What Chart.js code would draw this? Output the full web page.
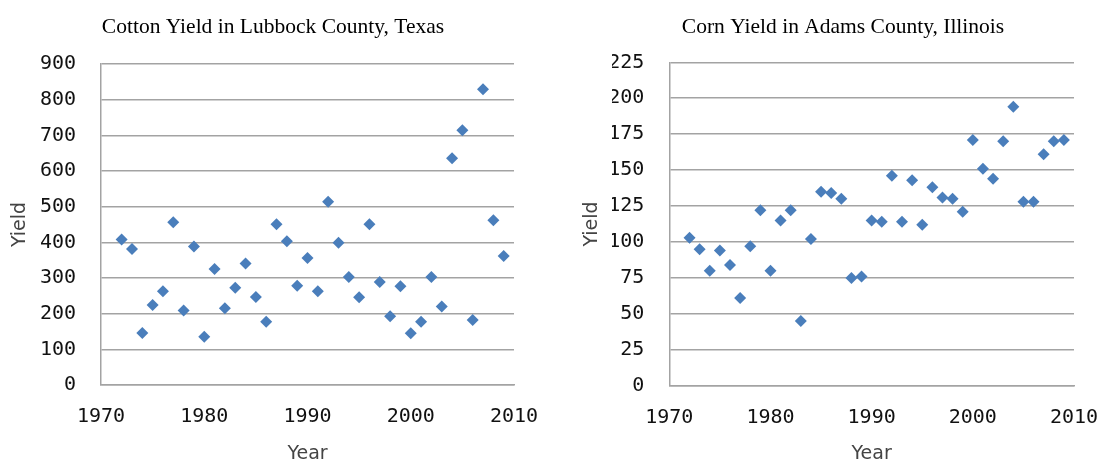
<!DOCTYPE html>
<html>
<head>
<meta charset="utf-8" />
<title>Yield scatter</title>
<script src="https://cdn.jsdelivr.net/npm/chart.js@4/dist/chart.umd.min.js"></script>
<style>
  html, body { margin: 0; padding: 0; background: #fff; }
  body { width: 1099px; height: 462px; position: relative; overflow: hidden; }
  .box { position: absolute; top: 0; }
</style>
</head>
<body>
<div class="box" style="left:0px"><canvas id="cotton" width="546" height="462"></canvas></div>
<div class="box" style="left:570px"><canvas id="corn" width="529" height="462"></canvas></div>
<script>
// data
const years = [1972, 1973, 1974, 1975, 1976, 1977, 1978, 1979, 1980, 1981,
               1982, 1983, 1984, 1985, 1986, 1987, 1988, 1989, 1990, 1991,
               1992, 1993, 1994, 1995, 1996, 1997, 1998, 1999, 2000, 2001,
               2002, 2003, 2004, 2005, 2006, 2007, 2008, 2009];
const cottonYield = [408, 381, 146, 224, 263, 456, 209, 388, 135, 325,
                     215, 273, 341, 247, 177, 451, 403, 278, 356, 263,
                     514, 399, 303, 246, 451, 289, 193, 277, 145, 177,
                     303, 220, 636, 714, 182, 829, 462, 362];
const cornYield = [103, 95, 80, 94, 84, 61, 97, 122, 80, 115,
                   122, 45, 102, 135, 134, 130, 75, 76, 115, 114,
                   146, 114, 143, 112, 138, 131, 130, 121, 171, 151,
                   144, 170, 194, 128, 128, 161, 170, 171];
const yearTicks = [1970, 1980, 1990, 2000, 2010];
const cottonTicks = [0, 100, 200, 300, 400, 500, 600, 700, 800, 900];
const cornTicks = [0, 25, 50, 75, 100, 125, 150, 175, 200, 225];

const gridGray = '#a3a3a3';
const tickFont = { family: 'DejaVu Sans Mono', size: 20 };
const axisTitleFont = { family: 'DejaVu Sans', size: 19 };

function makeChart(id, title, values, yTicks, s) {
  const pts = years.map((yr, i) => ({ x: yr, y: values[i] }));
  return new Chart(document.getElementById(id), {
    type: 'scatter',
    data: {
      datasets: [{
        data: pts,
        pointStyle: 'rectRot',
        pointRadius: 6,
        pointHoverRadius: 6,
        backgroundColor: '#4a7ebb',
        borderColor: '#4a7ebb',
        borderWidth: 0
      }]
    },
    options: {
      responsive: false,
      animation: false,
      devicePixelRatio: 1,
      layout: { padding: { left: s.padLeft, right: s.padRight, top: 0, bottom: 0 } },
      plugins: {
        legend: { display: false },
        tooltip: { enabled: false },
        title: {
          display: true,
          text: title,
          color: '#000',
          font: { family: 'Liberation Serif', size: 21.5, weight: 'normal' },
          padding: { top: 14, bottom: s.titleBottom }
        }
      },
      scales: {
        x: {
          type: 'linear',
          min: yearTicks[0],
          max: yearTicks[yearTicks.length - 1],
          afterBuildTicks: (sc) => { sc.ticks = yearTicks.map(v => ({ value: v })); },
          ticks: { font: tickFont, color: '#111', padding: 12, autoSkip: false, maxRotation: 0,
                   callback: (v) => String(v) },
          grid: { display: false },
          border: { display: true, color: gridGray, width: 1.5 },
          title: { display: true, text: 'Year', color: '#444', font: axisTitleFont,
                   padding: { top: 0, bottom: -3 } },
          afterFit: (sc) => {
            sc.height = s.xHeight;
            // keep the plot edge where the reference has it; labels may hang over
            sc.paddingLeft = 0;
            sc.paddingRight = 0;
          }
        },
        y: {
          min: yTicks[0],
          max: yTicks[yTicks.length - 1],
          afterBuildTicks: (sc) => { sc.ticks = yTicks.map(v => ({ value: v })); },
          ticks: { font: tickFont, color: '#111', padding: 25 },
          grid: { color: gridGray, lineWidth: 1.5, drawTicks: false },
          border: { display: true, color: gridGray, width: 1.5 },
          title: { display: true, text: 'Yield', color: '#444', font: axisTitleFont,
                   padding: { top: s.yTitlePad, bottom: 0 } },
          afterFit: (sc) => { sc.width = s.yWidth; }
        }
      }
    }
  });
}

makeChart('cotton', 'Cotton Yield in Lubbock County, Texas', cottonYield, cottonTicks,
  { padLeft: 32, padRight: 32, titleBottom: 24.2, xHeight: 77, yWidth: 69, yTitlePad: -23.4 });
makeChart('corn', 'Corn Yield in Adams County, Illinois', cornYield, cornTicks,
  { padLeft: 42, padRight: 25, titleBottom: 22.5, xHeight: 76.3, yWidth: 57.3, yTitlePad: -31.4 });
</script>
</body>
</html>
